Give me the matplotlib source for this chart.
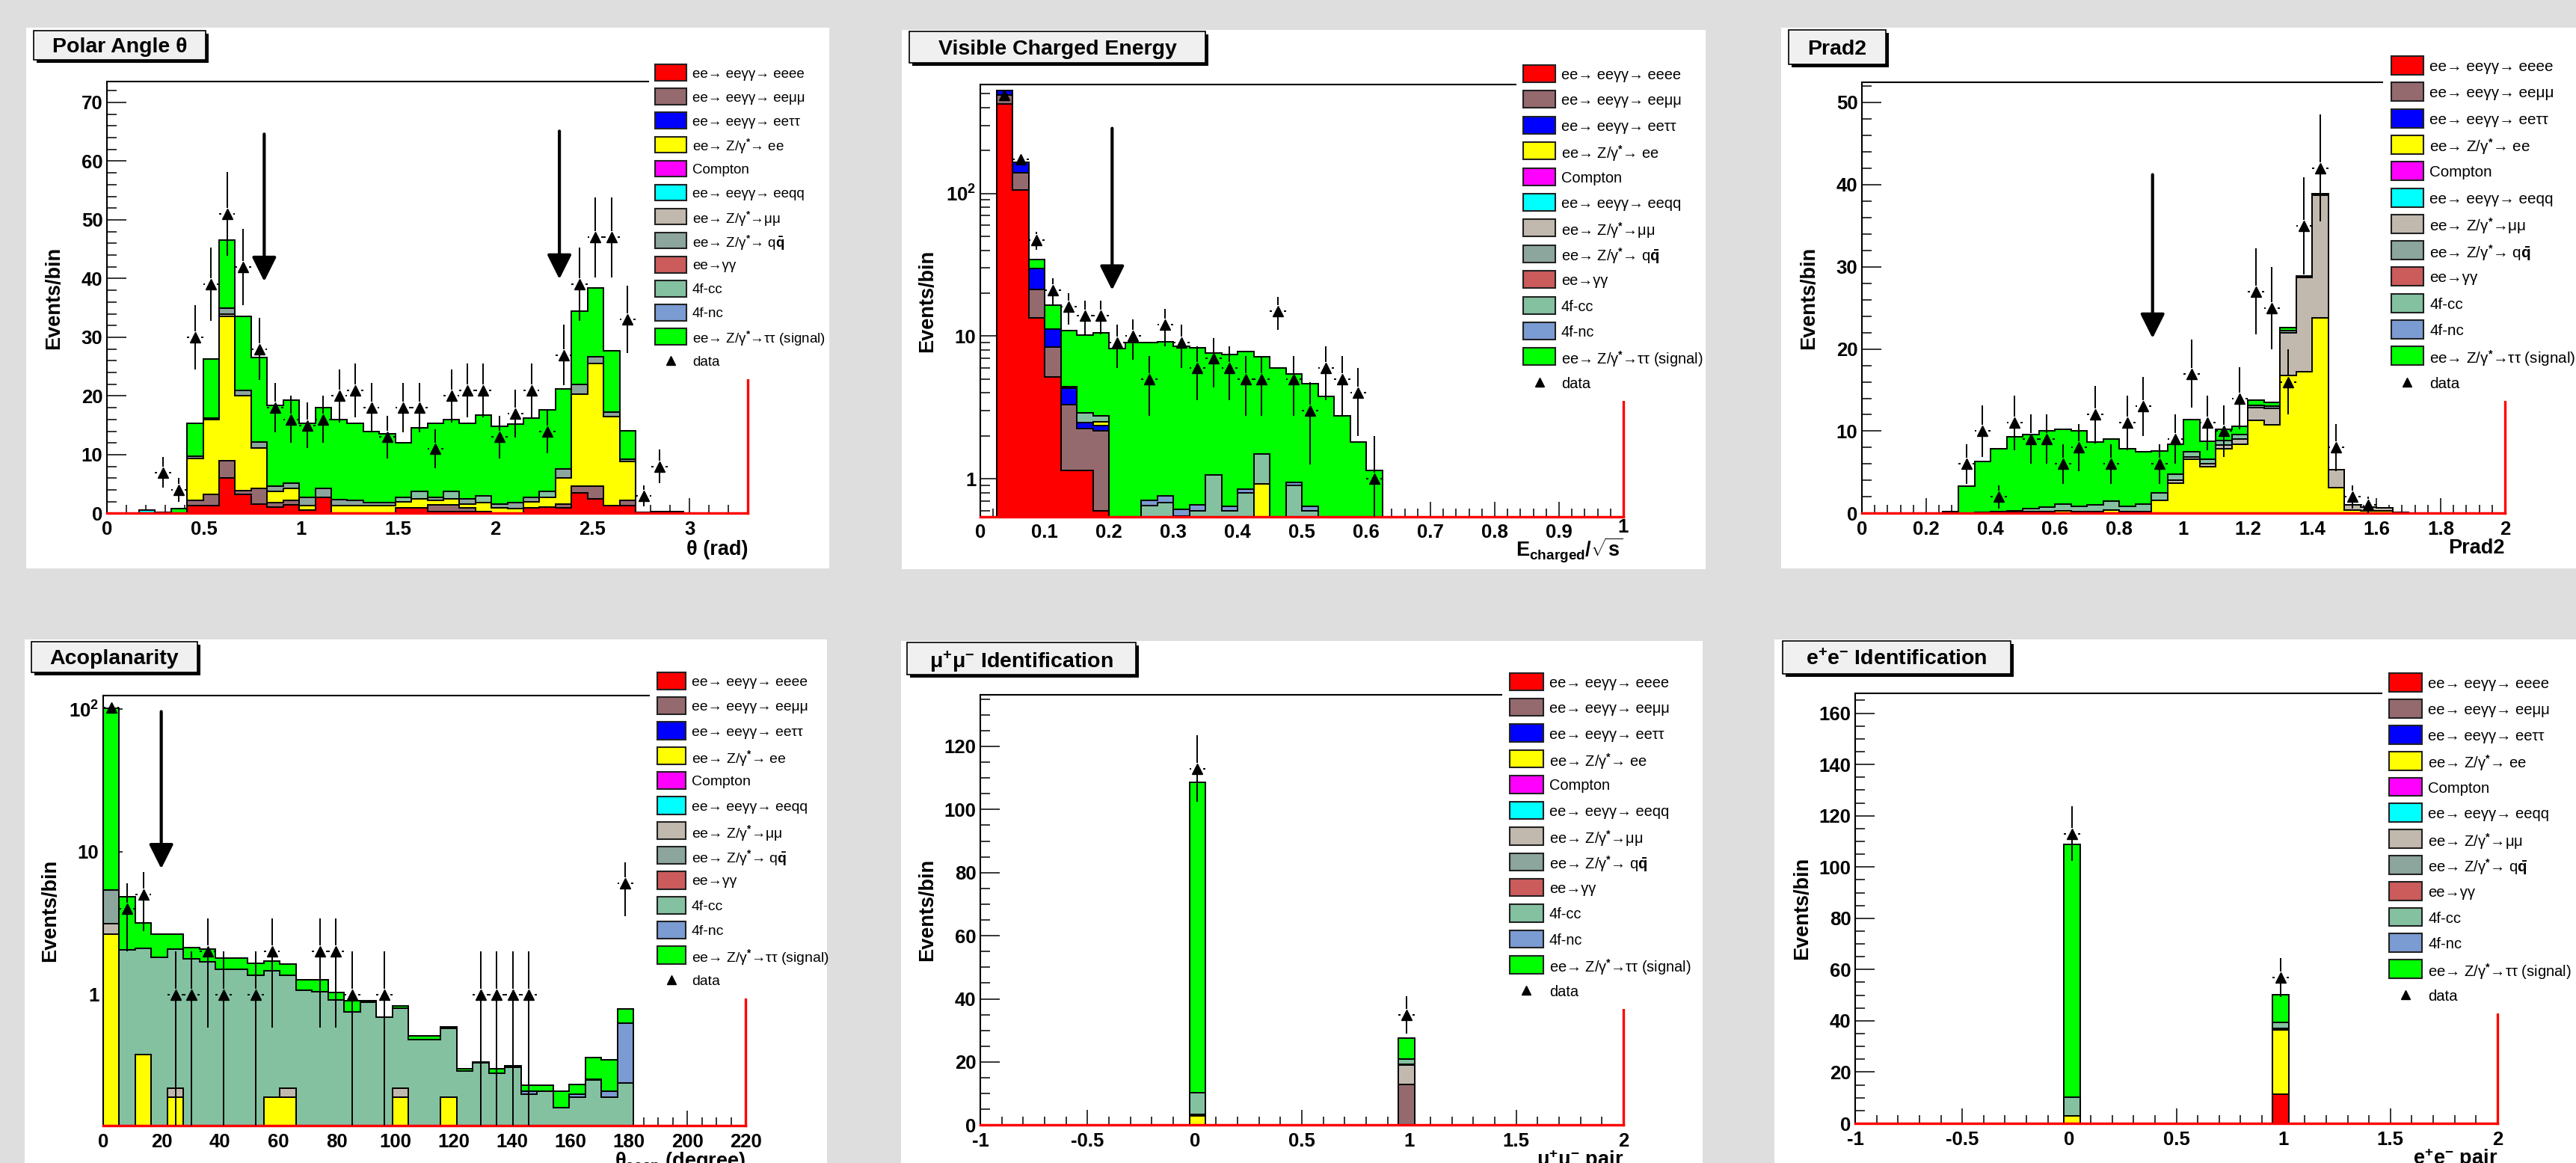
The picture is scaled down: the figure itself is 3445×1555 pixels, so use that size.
import numpy as np
import matplotlib
matplotlib.use("Agg")
import matplotlib.pyplot as plt
from matplotlib.patches import Rectangle
from matplotlib.collections import LineCollection
from matplotlib.ticker import (MultipleLocator, FixedLocator, FixedFormatter, NullFormatter,
                               LogLocator, FuncFormatter)

W, H, DPI = 3445, 1555, 100
BG = "#dedede"

plt.rcParams["font.family"] = ["Liberation Sans", "DejaVu Sans"]
plt.rcParams["font.weight"] = "bold"
plt.rcParams["mathtext.fontset"] = "custom"
plt.rcParams["mathtext.rm"] = "Liberation Sans"
plt.rcParams["mathtext.it"] = "Liberation Sans:italic"
plt.rcParams["mathtext.bf"] = "Liberation Sans:bold"
plt.rcParams["mathtext.sf"] = "Liberation Sans"

# ---------------------------------------------------------------- series
SERIES = ["eeee", "eemumu", "eetautau", "ee", "compton", "eeqq",
          "mumu", "qq", "gamgam", "cc4f", "nc4f", "signal"]
series_labels = ["ee→ eeγγ→ eeee", "ee→ eeγγ→ eeμμ", "ee→ eeγγ→ eeττ",
                 "ee→ Z/γ$^{*}$→ ee", "Compton", "ee→ eeγγ→ eeqq",
                 "ee→ Z/γ$^{*}$→μμ", r"ee→ Z/γ$^{*}$→ q$\bar{\mathrm{q}}$",
                 "ee→γγ", "4f-cc", "4f-nc", "ee→ Z/γ$^{*}$→ττ (signal)"]
series_colors = ["#ff0000", "#956a6f", "#0000ff", "#ffff00", "#ff00ff", "#00ffff",
                 "#c2b9ae", "#8ca59d", "#cc5b5b", "#84c1a1", "#7b9bd3", "#00ff00"]

# ---------------------------------------------------------------- panel 1: polar angle
p1_bins = (0.0, 3.3, 40)
p1_eeee = [0, 0, 0, 0, 0, 1.4, 1.3, 6.0, 3.3, 1.6, 1.1, 1.5, 0.6, 2.7, 0, 0, 0, 0, 1.0, 1.0,
           0.3, 0.3, 0.3, 0.3, 0, 0, 0.9, 1.1, 1.0, 3.5, 2.5, 1.4, 1.4, 0, 0.15, 0, 0, 0, 0, 0]
p1_eemumu = [0, 0, 0, 0, 0, 0.8, 2.0, 3.0, 0.6, 2.7, 0.8, 0.7, 0, 0, 0, 0, 0, 0, 0, 0,
             1.2, 1.2, 0.7, 0, 0, 0, 0, 0, 0.6, 1.1, 2.1, 0, 0.8, 0, 0, 0.3, 0, 0, 0, 0]
p1_ee = [0, 0, 0, 0, 0, 7.2, 12.7, 24.6, 16.1, 6.8, 1.9, 2.1, 0.8, 0, 1.4, 1.4, 1.3, 1.3, 1.0, 1.5,
         0.7, 1.0, 0.6, 1.6, 0.9, 0.8, 1.1, 1.7, 4.4, 15.7, 20.9, 15.1, 6.7, 0.1, 0.2, 0, 0, 0, 0, 0]
p1_eeqq = {2: 0.6}
p1_mumu = {7: 0.4}
p1_qq = [0, 0, 0, 0, 0, 0.3, 0.3, 1.0, 1.0, 1.1, 0.9, 0.9, 1.3, 1.6, 1.0, 0.8, 0.6, 0.6, 0, 0,
         0.6, 0, 0.9, 0, 0.7, 1.0, 0.8, 0, 1.6, 1.7, 1.2, 0.7, 0.3, 0, 0, 0, 0, 0, 0, 0]
p1_cc = {18: 0.8, 19: 1.3, 21: 1.3, 23: 1.1, 27: 1.0}
p1_signal = [0, 0, 0, 0.15, 0.8, 5.7, 10.0, 11.5, 12.6, 14.3, 13.7, 14.1, 12.6, 13.7, 13.6, 13.2,
             12.0, 11.7, 9.2, 10.8, 12.6, 12.2, 12.9, 13.8, 13.3, 13.4, 13.5, 13.9, 13.6, 12.5,
             11.7, 10.5, 4.9, 0.1, 0, 0, 0, 0, 0, 0]
p1_data = [0, 0, 0, 7, 4, 30, 39, 51, 42, 28, 18, 16, 15, 16, 20, 21, 18, 13, 18, 18,
           11, 20, 21, 21, 13, 17, 21, 14, 27, 39, 47, 47, 33, 3, 8, 0, 0, 0, 0, 0]

# ---------------------------------------------------------------- panel 2: visible charged energy
p2_bins = (0.0, 1.0, 40)
p2_eeee = {1: 423, 2: 106, 3: 13.4, 4: 5.2, 5: 1.15, 6: 1.15, 7: 0.6}
p2_eemumu = {1: 67, 2: 33, 3: 7.8, 4: 3.2, 5: 2.15, 6: 1.1, 7: 1.57}
p2_eetautau = {1: 37, 2: 25.5, 3: 8.5, 4: 2.8, 5: 1.0, 6: 0.24, 7: 0.18}
p2_ee = {7: 0.17, 17: 0.92}
p2_qq = {5: 0.1}
p2_cc = {6: 0.41, 7: 0.24, 10: 0.65, 11: 0.68, 12: 0.55, 13: 0.6, 14: 1.07, 15: 0.6,
         16: 0.8, 17: 0.58, 19: 0.9, 20: 0.6}
p2_nc = {10: 0.06, 11: 0.08, 12: 0.06, 13: 0.06, 15: 0.04, 16: 0.05, 19: 0.04, 20: 0.04}
p2_signal = {3: 4.8, 4: 5.3, 5: 6.6, 6: 7.3, 7: 7.84, 8: 8.2, 9: 9.0, 10: 8.3, 11: 8.34,
             12: 7.9, 13: 7.6, 14: 6.5, 15: 6.8, 16: 6.95, 17: 5.7, 18: 6.0, 19: 4.5,
             20: 4.0, 21: 3.8, 22: 2.76, 23: 1.82, 24: 1.14}
p2_data = {1: 490, 2: 174, 3: 47, 4: 21, 5: 16, 6: 14, 7: 14, 8: 9, 9: 10, 10: 5, 11: 12,
           12: 9, 13: 6, 14: 7, 15: 6, 16: 5, 17: 5, 18: 15, 19: 5, 20: 3, 21: 6, 22: 5,
           23: 4, 24: 1}

# ---------------------------------------------------------------- panel 3: Prad2
p3_bins = (0.0, 2.0, 40)
p3_ee = {9: 0.1, 10: 0.2, 11: 0.2, 12: 0.3, 13: 0.2, 14: 0.2, 15: 0.4, 16: 0.2, 17: 0.2,
         18: 1.6, 19: 3.7, 20: 6.6, 21: 5.7, 22: 7.9, 23: 8.4, 24: 11.3, 25: 10.8, 26: 16.8,
         27: 17.2, 28: 23.8, 29: 3.1, 30: 0.4, 31: 0.3, 32: 0.3}
p3_mumu = {19: 0.3, 20: 0.3, 21: 0.3, 22: 0.4, 23: 0.6, 24: 1.6, 25: 2.0, 26: 5.2, 27: 11.5,
           28: 14.9, 29: 2.2, 30: 0.6, 31: 0.5, 32: 0.4, 33: 0.1}
p3_qq = {24: 0.2, 25: 0.2, 26: 0.2, 28: 0.2}
p3_cc = {7: 0.1, 8: 0.2, 9: 0.2, 10: 0.4, 11: 0.6, 12: 0.8, 13: 0.7, 14: 0.8, 15: 1.1,
         16: 0.7, 17: 0.9, 18: 0.9, 19: 0.8, 20: 0.6, 21: 0.6, 22: 0.6, 23: 0.6}
p3_signal = {5: 0.2, 6: 3.3, 7: 6.2, 8: 7.7, 9: 9.0, 10: 9.0, 11: 9.2, 12: 9.1, 13: 9.1,
             14: 7.7, 15: 7.5, 16: 7.0, 17: 6.4, 18: 5.1, 19: 3.6, 20: 3.9, 21: 2.2, 22: 1.3,
             23: 1.0, 24: 0.7, 25: 0.5, 26: 0.4, 27: 0.2}
p3_data = {6: 6, 7: 10, 8: 2, 9: 11, 10: 9, 11: 9, 12: 6, 13: 8, 14: 12, 15: 6, 16: 11,
           17: 13, 18: 6, 19: 9, 20: 17, 21: 11, 22: 10, 23: 14, 24: 27, 25: 25, 26: 16,
           27: 35, 28: 42, 29: 8, 30: 2, 31: 1}

# ---------------------------------------------------------------- panel 4: acoplanarity
p4_bins = (0.0, 220.0, 40)
p4_ee = {0: 2.65, 2: 0.38, 4: 0.19, 10: 0.19, 11: 0.19, 18: 0.19, 21: 0.19}
p4_mumu = {0: 0.48, 4: 0.03, 11: 0.03, 18: 0.03}
p4_qq = {0: 2.24}
p4_cc = {1: 2.05, 2: 1.73, 3: 1.82, 4: 1.85, 5: 1.78, 6: 1.70, 7: 1.50, 8: 1.50, 9: 1.36,
         10: 1.27, 11: 1.14, 12: 1.07, 13: 1.04, 14: 0.91, 15: 0.75, 16: 0.88, 17: 0.69,
         18: 0.58, 19: 0.485, 20: 0.48, 21: 0.39, 22: 0.29, 23: 0.33, 24: 0.28, 25: 0.31,
         26: 0.20, 27: 0.21, 28: 0.16, 29: 0.19, 30: 0.25, 31: 0.19, 32: 0.24}
p4_nc = {26: 0.01, 29: 0.01, 30: 0.005, 31: 0.02, 32: 0.39}
p4_signal = {0: 96.4, 1: 2.8, 2: 1.06, 3: 0.83, 4: 0.58, 5: 0.36, 6: 0.39, 7: 0.30, 8: 0.30,
             9: 0.30, 10: 0.25, 11: 0.27, 12: 0.20, 13: 0.23, 14: 0.12, 15: 0.15, 16: 0.02,
             18: 0.03, 19: 0.025, 20: 0.03, 21: 0.01, 22: 0.01, 23: 0.006, 24: 0.02,
             25: 0.007, 26: 0.02, 27: 0.02, 28: 0.05, 29: 0.035, 30: 0.105, 31: 0.14, 32: 0.16}
p4_data = {0: 103, 1: 4, 2: 5, 4: 1, 5: 1, 6: 2, 7: 1, 9: 1, 10: 2, 13: 2, 14: 2, 15: 1,
           17: 1, 23: 1, 24: 1, 25: 1, 26: 1, 32: 6}

# ---------------------------------------------------------------- panel 5: mu+mu- identification
p5_bins = (-1.0, 2.0, 40)
p5_ee = {13: 3.0}
p5_eemumu = {26: 12.8}
p5_mumu = {26: 6.3}
p5_qq = {13: 0.3, 26: 0.2}
p5_cc = {13: 7.0, 26: 1.6}
p5_signal = {13: 98.4, 26: 6.7}
p5_data = {13: 113, 26: 35}

# ---------------------------------------------------------------- panel 6: e+e- identification
p6_bins = (-1.0, 2.0, 40)
p6_eeee = {26: 11.4}
p6_ee = {13: 3.0, 26: 25.1}
p6_qq = {26: 0.6}
p6_cc = {13: 7.3, 26: 2.2}
p6_signal = {13: 98.5, 26: 11.0}
p6_data = {13: 113, 26: 57}

# ---------------------------------------------------------------- texts
titles = ["Polar Angle θ", "Visible Charged Energy", "Prad2", "Acoplanarity",
          "μ$^{+}$μ$^{-}$ Identification", "e$^{+}$e$^{-}$ Identification"]
xlabels = ["θ (rad)", r"$\mathbf{E}_{\mathbf{charged}}/\sqrt{\mathbf{s}}$", "Prad2",
           "θ$_{\\mathrm{acop}}$ (degree)", "μ$^{+}$μ$^{-}$ pair", "e$^{+}$e$^{-}$ pair"]
ylabel = "Events/bin"

# ---------------------------------------------------------------- layout (pixels)
panels = [
    dict(white=(35, 1109, 37, 760), axes=(143, 1000, 109.4, 686.5), title=(45, 275, 41, 80),
         legend=(868, 876, 918, 97, 32.1, 21.5, 1109), xlim=(0, 3.3), ylim=(0, 73.5), log=False,
         xmaj=0.5, xmin=0.1, ymaj=10, ymin=2, xlab_off=56, raise_last=False,
         arrows=[(0.81, 64.6, 39.5), (2.33, 65.1, 39.9)]),
    dict(white=(1206, 2281, 40, 761), axes=(1311, 2171, 113.4, 690.5), title=(1216, 1612, 42, 84),
         legend=(2028, 2037, 2080, 98.5, 34.4, 23, 2281), xlim=(0, 1), ylim=(0.545, 577), log=True,
         xmaj=0.1, xmin=0.02, xlab_off=53, raise_last=True,
         arrows=[(0.205, 286, 21)]),
    dict(white=(2382, 3445, 37, 760), axes=(2490, 3350, 110.4, 686.4), title=(2392, 2522, 40, 86),
         legend=(3187, 3197.5, 3241, 87.5, 35.3, 25, 3445), xlim=(0, 2), ylim=(0, 52.4), log=False,
         xmaj=0.2, xmin=0.04, ymaj=10, ymin=2, xlab_off=54, raise_last=False,
         arrows=[(0.904, 41.2, 21.3)]),
    dict(white=(33, 1106, 855, 1555), axes=(137.9, 997.4, 930.2, 1505.3), title=(42, 264, 858, 899),
         legend=(869, 878.6, 916.7, 910.5, 33.3, 23.4, 1106), xlim=(0, 220), ylim=(0.12, 124), log=True,
         xmaj=20, xmin=5, xlab_off=55, raise_last=False,
         arrows=[(19.9, 96, 7.6)]),
    dict(white=(1205, 2277, 857, 1555), axes=(1311, 2171, 929.2, 1504.4), title=(1213, 1519, 859, 902),
         legend=(2009, 2018.7, 2064, 911.4, 34.4, 23.4, 2277), xlim=(-1, 2), ylim=(0, 136.3), log=False,
         xmaj=0.5, xmin=0.1, ymaj=20, ymin=5, xlab_off=55, raise_last=False, arrows=[]),
    dict(white=(2373, 3445, 855, 1555), axes=(2481, 3340, 926.9, 1502), title=(2384, 2689, 857, 901),
         legend=(3186, 3194.8, 3239.3, 912.8, 34.8, 24.8, 3445), xlim=(-1, 2), ylim=(0, 167.8), log=False,
         xmaj=0.5, xmin=0.1, ymaj=20, ymin=5, xlab_off=55, raise_last=False, arrows=[]),
]

panel_data = [
    (p1_bins, dict(eeee=p1_eeee, eemumu=p1_eemumu, ee=p1_ee, eeqq=p1_eeqq, mumu=p1_mumu,
                   qq=p1_qq, cc4f=p1_cc, signal=p1_signal), p1_data),
    (p2_bins, dict(eeee=p2_eeee, eemumu=p2_eemumu, eetautau=p2_eetautau, ee=p2_ee, qq=p2_qq,
                   cc4f=p2_cc, nc4f=p2_nc, signal=p2_signal), p2_data),
    (p3_bins, dict(ee=p3_ee, mumu=p3_mumu, qq=p3_qq, cc4f=p3_cc, signal=p3_signal), p3_data),
    (p4_bins, dict(ee=p4_ee, mumu=p4_mumu, qq=p4_qq, cc4f=p4_cc, nc4f=p4_nc, signal=p4_signal), p4_data),
    (p5_bins, dict(ee=p5_ee, eemumu=p5_eemumu, mumu=p5_mumu, qq=p5_qq, cc4f=p5_cc, signal=p5_signal), p5_data),
    (p6_bins, dict(eeee=p6_eeee, ee=p6_ee, qq=p6_qq, cc4f=p6_cc, signal=p6_signal), p6_data),
]


def as_array(v, n):
    if isinstance(v, dict):
        a = np.zeros(n)
        for k, val in v.items():
            a[k] = val
        return a
    return np.asarray(v, float)


def px_rect(x0, x1, y0, y1):
    return [x0 / W, 1 - y1 / H, (x1 - x0) / W, (y1 - y0) / H]


fig = plt.figure(figsize=(W / DPI, H / DPI), dpi=DPI, facecolor=BG)
bg = fig.add_axes([0, 0, 1, 1], zorder=0)
bg.set_xlim(0, W); bg.set_ylim(H, 0); bg.axis("off")
ov = fig.add_axes([0, 0, 1, 1], zorder=10)
ov.set_xlim(0, W); ov.set_ylim(H, 0); ov.axis("off")

GAP = 8  # pixel gap between marker and error bars (ROOT style)

for lay, (bins, comps, data), title, xlab in zip(panels, panel_data, titles, xlabels):
    wx0, wx1, wy0, wy1 = lay["white"]
    bg.add_patch(Rectangle((wx0, wy0), wx1 - wx0, wy1 - wy0, facecolor="white", edgecolor="none"))

    ax0, ax1, ay0, ay1 = lay["axes"]
    ax = fig.add_axes(px_rect(ax0, ax1, ay0, ay1), zorder=5)
    ax.patch.set_visible(False)
    aw, ah = ax1 - ax0, ay1 - ay0
    log = lay["log"]
    if log:
        ax.set_yscale("log")
    ax.set_xlim(*lay["xlim"])
    ax.set_ylim(*lay["ylim"])
    ylo, yhi = lay["ylim"]
    xl, xh = lay["xlim"]

    lo, hi, n = bins
    edges = np.linspace(lo, hi, n + 1)
    base = 1e-3 if log else 0.0
    cum = []
    running = np.zeros(n)
    for name in SERIES:
        running = running + as_array(comps.get(name, np.zeros(n)), n)
        cum.append(running.copy())
    for k in range(len(SERIES) - 1, -1, -1):
        below = cum[k - 1] if k > 0 else None
        if below is not None and np.allclose(cum[k], below):
            continue
        vals = np.maximum(cum[k], base)
        ax.stairs(vals, edges, baseline=base, fill=True, facecolor=series_colors[k],
                  edgecolor="none", zorder=2)
        ax.stairs(vals, edges, baseline=None, fill=False, color="black", lw=1.4, zorder=2)

    # data points with ROOT-like error bars (gap around the marker)
    d = as_array(data, n)
    centers = 0.5 * (edges[1:] + edges[:-1])
    hw = 0.5 * (edges[1] - edges[0])
    m = d > 0
    tr = ax.transData
    inv = tr.inverted()
    segs = []
    for xc, yv in zip(centers[m], d[m]):
        e = np.sqrt(yv)
        y_top = yv + e
        y_bot = yv - e
        if log and y_bot <= ylo:
            y_bot = ylo * 0.5
        X, Y = tr.transform((xc, yv))
        _, Yt = tr.transform((xc, y_top))
        _, Yb = tr.transform((xc, y_bot))
        Xl, _ = tr.transform((xc - hw, yv))
        Xr, _ = tr.transform((xc + hw, yv))
        parts = []
        if Yt > Y + GAP:
            parts.append(((X, Y + GAP), (X, Yt)))
        if Yb < Y - GAP:
            parts.append(((X, Yb), (X, Y - GAP)))
        if Xl < X - GAP:
            parts.append(((Xl, Y), (X - GAP, Y)))
        if Xr > X + GAP:
            parts.append(((X + GAP, Y), (Xr, Y)))
        for a, b in parts:
            segs.append(inv.transform(np.array([a, b])))
    ax.add_collection(LineCollection(segs, colors="black", linewidths=1.4, zorder=6))
    ax.plot(centers[m], d[m], ls="none", marker="^", color="black", ms=10, zorder=7)

    ax.plot([xl, xh], [ylo, ylo], color="red", lw=2.4, clip_on=False, zorder=4)
    ax.plot([xh, xh], [ylo, yhi], color="red", lw=2.4, clip_on=False, zorder=4)

    for arrow in lay["arrows"]:
        xa, ytail, ytip = arrow
        ax.annotate("", xy=(xa, ytip), xytext=(xa, ytail),
                    arrowprops=dict(arrowstyle="-|>,head_length=1.0,head_width=0.5",
                                    mutation_scale=20, lw=3, color="black",
                                    shrinkA=0, shrinkB=0), zorder=8)

    for s in ("left", "bottom", "top"):
        ax.spines[s].set_linewidth(1.5)
        ax.spines[s].set_color("black")
    ax.spines["right"].set_visible(False)

    ax.xaxis.set_major_locator(MultipleLocator(lay["xmaj"]))
    ax.xaxis.set_minor_locator(MultipleLocator(lay["xmin"]))
    if log:
        ax.yaxis.set_major_locator(FixedLocator([1, 10, 100]))
        ax.yaxis.set_major_formatter(FixedFormatter(["1", "10", r"$\mathbf{10^{2}}$"]))
        ax.yaxis.set_minor_locator(LogLocator(base=10, subs=np.arange(2, 10)))
        ax.yaxis.set_minor_formatter(NullFormatter())
    else:
        ax.yaxis.set_major_locator(MultipleLocator(lay["ymaj"]))
        ax.yaxis.set_minor_locator(MultipleLocator(lay["ymin"]))
        ax.yaxis.set_major_formatter(FuncFormatter(lambda v, p: f"{v:g}"))
    if lay["raise_last"]:
        ax.xaxis.set_major_formatter(FuncFormatter(
            lambda v, p, top=xh: "" if abs(v - top) < 1e-9 else f"{v:g}"))
        ax.text(1.0, -3 / ah, f"{xh:g}", transform=ax.transAxes, ha="center", va="top",
                fontsize=18.5, fontweight="bold")
    else:
        ax.xaxis.set_major_formatter(FuncFormatter(lambda v, p: f"{v:g}"))
    ax.tick_params(which="both", direction="in", top=False, right=False, width=1.1,
                   labelsize=18.5)
    ax.tick_params(axis="x", which="major", length=14.4, pad=7)
    ax.tick_params(axis="x", which="minor", length=8)
    ax.tick_params(axis="y", which="major", length=18.5, pad=4)
    ax.tick_params(axis="y", which="minor", length=9.5)

    ax.text(-71 / aw, 0.5, ylabel, transform=ax.transAxes, rotation=90, ha="center",
            va="center", fontsize=19.5, fontweight="bold")
    ax.text(1.0, -lay["xlab_off"] / ah, xlab, transform=ax.transAxes, ha="right",
            va="baseline", fontsize=19.5, fontweight="bold")

    # title box with shadow
    tx0, tx1, ty0, ty1 = lay["title"]
    ov.add_patch(Rectangle((tx0 + 4, ty0 + 4), tx1 - tx0, ty1 - ty0, facecolor="black",
                           edgecolor="none"))
    ov.add_patch(Rectangle((tx0, ty0), tx1 - tx0, ty1 - ty0, facecolor="#f0f0f0",
                           edgecolor="black", lw=1.2))
    ov.text((tx0 + tx1) / 2, (ty0 + ty1) / 2, title, ha="center", va="center_baseline",
            fontsize=20.5, fontweight="bold")

    # legend (opaque box covering the frame corner, as in ROOT)
    lbx, px0, px1, fy, sp, ph, rbx = lay["legend"]
    data_y = fy + 12 * sp
    top = fy - 0.75 * sp
    ov.add_patch(Rectangle((lbx, top), rbx - lbx, data_y + 25 - top, facecolor="white",
                           edgecolor="none"))
    fs = sp * 0.42
    for i, (lab, col) in enumerate(zip(series_labels, series_colors)):
        y = fy + i * sp
        ov.add_patch(Rectangle((px0, y - ph / 2), px1 - px0, ph, facecolor=col,
                               edgecolor="#222222", lw=1.5))
        ov.text(px1 + 8, y, lab, ha="left", va="center_baseline", fontsize=fs,
                fontweight="normal")
    ov.plot([(px0 + px1) / 2], [data_y], marker="^", color="black", ms=9, ls="none")
    ov.text(px1 + 8, data_y, "data", ha="left", va="center_baseline", fontsize=fs,
            fontweight="normal")

fig.savefig("out.png", dpi=DPI, facecolor=BG)
